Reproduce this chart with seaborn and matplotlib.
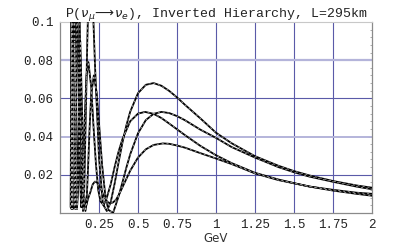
import pandas as pd
import seaborn as sns
from matplotlib import pyplot as plt
from matplotlib.ticker import MultipleLocator, FixedLocator

# Curve values (energy in GeV, probability)
energy_a = [0.072, 0.074, 0.078, 0.084, 0.090, 0.098, 0.108, 0.118, 0.130, 0.140,
            0.1475, 0.155, 0.165, 0.175, 0.185, 0.197, 0.21, 0.225, 0.25, 0.275,
            0.30, 0.325, 0.35, 0.375, 0.40, 0.425, 0.45, 0.50, 0.55, 0.60,
            0.65, 0.70, 0.75, 0.80, 0.90, 1.00, 1.10, 1.25, 1.40, 1.50,
            1.60, 1.75, 1.90, 2.00]
prob_a = [0.12, 0.002, 0.07, 0.17, 0.10, 0.002, 0.09, 0.15, 0.08, 0.015,
          0.001, 0.011, 0.05, 0.09, 0.12, 0.13, 0.11, 0.076, 0.029, 0.0046,
          0.001, 0.0056, 0.0153, 0.0263, 0.0367, 0.0457, 0.0530, 0.0627, 0.0671, 0.0680,
          0.0666, 0.0639, 0.0605, 0.0567, 0.0495, 0.0420, 0.0365, 0.0297, 0.0247, 0.0219,
          0.0196, 0.0167, 0.0144, 0.0132]

energy_b = [0.068, 0.072, 0.078, 0.085, 0.091, 0.098, 0.109, 0.120, 0.128, 0.136,
            0.143, 0.150, 0.160, 0.170, 0.182, 0.20, 0.215, 0.23, 0.245, 0.26,
            0.28, 0.30, 0.325, 0.35, 0.375, 0.40, 0.45, 0.50, 0.545, 0.60,
            0.65, 0.70, 0.75, 0.80, 0.90, 1.00, 1.10, 1.25, 1.40, 1.50,
            1.60, 1.75, 1.90, 2.00]
prob_b = [0.003, 0.07, 0.15, 0.06, 0.003, 0.06, 0.12, 0.07, 0.02, 0.003,
          0.009, 0.026, 0.053, 0.072, 0.079, 0.066, 0.045, 0.026, 0.012, 0.006,
          0.004, 0.008, 0.015, 0.024, 0.032, 0.0386, 0.048, 0.052, 0.0529, 0.0519,
          0.0497, 0.0468, 0.0438, 0.0408, 0.0351, 0.0302, 0.0261, 0.0210, 0.0175, 0.0156,
          0.0138, 0.0121, 0.0106, 0.0100]

energy_c = [0.0724, 0.077, 0.0815, 0.086, 0.093, 0.100, 0.109, 0.118, 0.130, 0.145,
            0.155, 0.163, 0.170, 0.180, 0.190, 0.20, 0.217, 0.235, 0.25, 0.27,
            0.29, 0.31, 0.34, 0.35, 0.375, 0.40, 0.425, 0.45, 0.50, 0.55,
            0.60, 0.65, 0.70, 0.75, 0.80, 0.90, 1.00, 1.10, 1.25, 1.40,
            1.50, 1.60, 1.75, 1.90, 2.00]
prob_c = [0.13, 0.08, 0.002, 0.05, 0.12, 0.06, 0.002, 0.045, 0.09, 0.042,
          0.008, 0.001, 0.005, 0.024, 0.045, 0.062, 0.072, 0.063, 0.047, 0.025,
          0.0094, 0.0016, 0.000, 0.0024, 0.0085, 0.0159, 0.0236, 0.0307, 0.0417, 0.0486,
          0.0519, 0.0529, 0.0523, 0.0507, 0.0486, 0.0436, 0.0393, 0.0345, 0.0290, 0.0240,
          0.0213, 0.0190, 0.0163, 0.0138, 0.0124]

energy_d = [0.0736, 0.078, 0.0828, 0.087, 0.0946, 0.103, 0.110, 0.115, 0.124, 0.132,
            0.140, 0.150, 0.165, 0.18, 0.195, 0.21, 0.224, 0.24, 0.26, 0.28,
            0.30, 0.32, 0.34, 0.36, 0.38, 0.40, 0.45, 0.50, 0.55, 0.60,
            0.66, 0.70, 0.75, 0.80, 0.90, 1.00, 1.10, 1.25, 1.40, 1.50,
            1.60, 1.75, 1.90, 2.00]
prob_d = [0.12, 0.06, 0.004, 0.05, 0.09, 0.04, 0.004, 0.01, 0.035, 0.05,
          0.035, 0.012, 0.003, 0.0075, 0.011, 0.015, 0.0164, 0.0158, 0.013, 0.009,
          0.006, 0.005, 0.0055, 0.0070, 0.0099, 0.0134, 0.0221, 0.0290, 0.0333, 0.0356,
          0.0364, 0.0362, 0.0353, 0.0342, 0.0313, 0.0285, 0.0256, 0.0207, 0.0172, 0.0155,
          0.0138, 0.0117, 0.0100, 0.0090]

x_ticks = [0.25, 0.5, 0.75, 1, 1.25, 1.5, 1.75, 2]
x_tick_labels = ["0.25", "0.5", "0.75", "1", "1.25", "1.5", "1.75", "2"]
y_ticks = [0.02, 0.04, 0.06, 0.08, 0.1]
y_tick_labels = ["0.02", "0.04", "0.06", "0.08", "0.1"]

curves = [(energy_a, prob_a), (energy_b, prob_b), (energy_c, prob_c), (energy_d, prob_d)]

sns.set_style("white")
plt.rcParams["mathtext.fontset"] = "dejavusans"

fig = plt.figure(figsize=(4, 2.47), dpi=100)
ax = fig.add_axes([0.15, 0.138, 0.78, 0.773])

# grid lines (Mathematica style: alternating dark / light blue)
grid_dark = "#5a5aa8"
grid_light = "#b4b4da"
for xv in x_ticks[:-1]:
    ax.axvline(xv, color=grid_dark, lw=0.8, zorder=1)
for yv, col, lw in [(0.02, grid_dark, 0.8), (0.04, grid_light, 1.4),
                    (0.06, grid_dark, 0.8), (0.08, grid_light, 1.6)]:
    ax.axhline(yv, color=col, lw=lw, zorder=1)

for e, p in curves:
    df = pd.DataFrame({"GeV": e, "P": p})
    sns.lineplot(data=df, x="GeV", y="P", ax=ax, color="black", lw=1.3,
                 sort=False, estimator=None, zorder=3)
    sns.lineplot(data=df, x="GeV", y="P", ax=ax, color="#b8b8b8", lw=0.5,
                 sort=False, estimator=None, zorder=4, dashes=False,
                 linestyle=(0, (3, 4)))

ax.set_xlim(0, 2)
ax.set_ylim(0, 0.1)

ax.xaxis.set_major_locator(FixedLocator(x_ticks))
ax.set_xticklabels(x_tick_labels)
ax.yaxis.set_major_locator(FixedLocator(y_ticks))
ax.set_yticklabels(y_tick_labels)
ax.xaxis.set_minor_locator(MultipleLocator(0.05))
ax.yaxis.set_minor_locator(MultipleLocator(0.004))

axis_gray = "#8a8a8a"
for side in ["left", "bottom", "right"]:
    ax.spines[side].set_color(axis_gray)
    ax.spines[side].set_linewidth(0.9)
ax.spines["top"].set_color("#c8c8c8")
ax.spines["top"].set_linewidth(0.8)

ax.tick_params(axis="both", which="major", length=3, width=0.7, color=axis_gray,
               labelsize=9, pad=1.5, labelcolor="#222222")
ax.tick_params(axis="both", which="minor", length=1.8, width=0.5, color=axis_gray)
ax.tick_params(axis="y", which="both", right=True)
for lab in ax.get_xticklabels() + ax.get_yticklabels():
    lab.set_fontfamily("Liberation Mono")
# right side ticks point inward
for t in ax.yaxis.get_major_ticks() + ax.yaxis.get_minor_ticks():
    t.tick2line.set_marker(0)

ax.set_xlabel("GeV", fontsize=8.5, color="#333333", labelpad=0.5, fontfamily="DejaVu Sans")
ax.set_ylabel("")
ax.set_title(r"P($\nu_\mu\!\longrightarrow\!\nu_e$), Inverted Hierarchy, L=295km",
             fontsize=9.5, fontfamily="Liberation Mono", pad=4, color="#222222")

fig.savefig("out.png", dpi=100)
